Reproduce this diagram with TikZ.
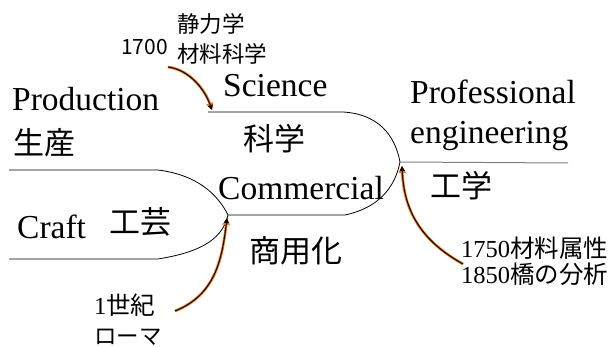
\documentclass[tikz,border=0pt]{standalone}
\usepackage{fontspec}
\setmainfont{Liberation Serif}
\newfontfamily\cjk{Noto Sans CJK JP}
\usetikzlibrary{arrows.meta}
\tikzset{
  big/.style={inner sep=0pt, font=\fontsize{33.5}{38}\selectfont},
  bigcjk/.style={inner sep=0pt, font=\cjk\fontsize{31}{36}\selectfont},
  small/.style={inner sep=0pt, font=\fontsize{24.5}{28}\selectfont, anchor=west},
  smallcjk/.style={inner sep=0pt, font=\cjk\fontsize{22.5}{26}\selectfont, anchor=west},
  edge/.style={black, line width=0.8pt},
  prof/.style={gray, line width=1pt},
  influence/.style={black, line width=1pt, -{Triangle[length=5pt,width=5pt]},
    preaction={draw=orange!90!red, line width=2.6pt, -{Triangle[length=7pt,width=7pt]}}},
}
\begin{document}
\begin{tikzpicture}[x=1pt,y=-1pt]
\useasboundingbox (0,0) rectangle (615,347);
% structural lines
\coordinate (s0) at (208,112);
\coordinate (s1) at (343,112);
\coordinate (j) at (400,162);
\coordinate (p1) at (568,163);
\coordinate (c1) at (345,215);
\coordinate (c0) at (228,215);
\coordinate (k) at (228,215);
\coordinate (t0) at (9,170);
\coordinate (t1) at (158,170);
\coordinate (b0) at (9,259);
\coordinate (b1) at (158,259);
\draw[edge] (s0) -- (s1) .. controls (378,114) and (395,135) .. (j);
\draw[edge] (j) .. controls (395,188) and (378,208) .. (c1) -- (c0);
\draw[edge] (t0) -- (t1) .. controls (198,175) and (218,195) .. (k);
\draw[edge] (b0) -- (b1) .. controls (195,253) and (222,242) .. (k);
\draw[prof] (j) -- (p1);
% texts
\node[big, anchor=base west] (prod) at (12,111) {Production};
\node[bigcjk] (seisan) at (44,143) {生産};
\node[big, anchor=base west] (sci) at (223,97) {Science};
\node[bigcjk] (kagaku) at (274,139) {科学};
\node[big, anchor=base west] (pro) at (410,104) {Professional};
\node[big, anchor=base west] (eng) at (410,144) {engineering};
\node[bigcjk] (kougaku) at (461,186) {工学};
\node[big, anchor=base west] (com) at (218,200) {Commercial};
\node[big, anchor=base west] (craft) at (17,238) {Craft};
\node[bigcjk] (kougei) at (140,222) {工芸};
\node[bigcjk] (shouyou) at (296,251) {商用化};
% annotations
\node[inner sep=0pt, font=\cjk\fontsize{21}{24}\selectfont, anchor=east] (y1700) at (168,47) {1700};
\node[smallcjk] (seiri) at (177,24) {静力学};
\node[smallcjk] (zairyo) at (177,54) {材料科学};
\node[small] (y1750) at (461,248) {1750{\cjk 材料属性}};
\node[small] (y1850) at (461,274) {1850{\cjk 橋の分析}};
\node[small] (seiki) at (94,305) {1{\cjk 世紀}};
\node[smallcjk] (roma) at (94,337) {ローマ};
% influence arrows
\coordinate (a1s) at (168,67);
\coordinate (a1e) at (212,110);
\coordinate (a2s) at (463,264);
\coordinate (a2e) at (402,166);
\coordinate (a3s) at (175,311);
\coordinate (a3e) at (227,218);
\draw[influence] (a1s) .. controls (190,70) and (205,90) .. (a1e);
\draw[influence] (a2s) .. controls (420,240) and (404,210) .. (a2e);
\draw[influence] (a3s) .. controls (215,295) and (222,260) .. (a3e);
\end{tikzpicture}
\end{document}
